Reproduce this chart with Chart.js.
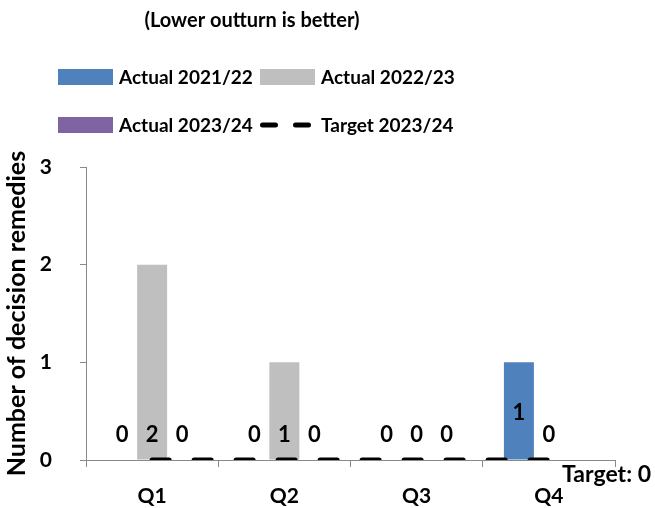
<!DOCTYPE html>
<html>
<head>
<meta charset="utf-8">
<script src="https://cdn.jsdelivr.net/npm/chart.js@4.4.1/dist/chart.umd.min.js"></script>
<style>
  html, body { margin: 0; padding: 0; background: #ffffff; }
  #wrap { width: 655px; height: 508px; position: relative; }
</style>
</head>
<body>
<div id="wrap"><canvas id="chart"></canvas></div>
<script>
// Quarterly decision remedies
const quarters = ['Q1', 'Q2', 'Q3', 'Q4'];
const actual2122 = [0, 0, 0, 1];
const actual2223 = [2, 1, 0, 0];
const actual2324 = [0, 0, 0, null];
const target2324 = [0, 0, 0, 0];
const targetValue = 0;
const yTickValues = [0, 1, 2, 3];
const subtitle = '(Lower outturn is better)';

const FONT = 'Lato';
const AXIS_GREY = '#898989';

// Heading and two-column legend above the plot
const headerLegend = {
  id: 'headerLegend',
  afterDraw(chart, args, opts) {
    const ctx = chart.ctx;
    ctx.save();
    ctx.fillStyle = '#000';
    ctx.textBaseline = 'middle';
    ctx.textAlign = 'center';
    ctx.font = `bold ${opts.titleSize}px ${FONT}`;
    ctx.fillText(opts.title, opts.titleX, opts.titleY);

    ctx.font = `bold ${opts.fontSize}px ${FONT}`;
    ctx.textAlign = 'left';
    opts.order.forEach((di, k) => {
      const ds = chart.data.datasets[di];
      const col = k % 2, row = Math.floor(k / 2);
      const x = opts.cols[col], y = opts.rows[row];
      if (ds.type === 'line') {
        ctx.strokeStyle = ds.borderColor;
        ctx.lineWidth = ds.borderWidth;
        ctx.lineCap = 'round';
        ctx.setLineDash([13, 20]);
        ctx.beginPath();
        ctx.moveTo(x + 2.5, y);
        ctx.lineTo(x + opts.boxWidth - 2.5, y);
        ctx.stroke();
        ctx.setLineDash([]);
      } else {
        ctx.fillStyle = ds.backgroundColor;
        ctx.fillRect(x, y - opts.boxHeight / 2, opts.boxWidth, opts.boxHeight);
      }
      ctx.fillStyle = '#000';
      ctx.fillText(ds.label, x + opts.boxWidth + 6, y + 1);
    });
    ctx.restore();
  }
};

// Value labels above the bar bases, plus the target note
const valueLabels = {
  id: 'valueLabels',
  afterDatasetsDraw(chart, args, opts) {
    const ctx = chart.ctx;
    const y = chart.scales.y;
    const base = y.getPixelForValue(0);
    ctx.save();
    ctx.font = `bold ${opts.fontSize}px ${FONT}`;
    ctx.fillStyle = '#000';
    ctx.textAlign = 'center';
    ctx.textBaseline = 'middle';
    chart.data.datasets.forEach((ds, di) => {
      if (ds.type === 'line') return;
      const meta = chart.getDatasetMeta(di);
      meta.data.forEach((bar, i) => {
        const v = ds.data[i];
        if (v === null || v === undefined) return;
        const lift = opts.lift[di + ':' + i] ?? opts.defaultLift;
        ctx.fillText(String(v), bar.x, base - lift);
      });
    });
    ctx.font = `bold ${opts.noteSize}px ${FONT}`;
    ctx.textAlign = 'right';
    ctx.fillText('Target: ' + targetValue, chart.width - 4, y.getPixelForValue(targetValue) + 15);
    ctx.restore();
  }
};

const chart = new Chart(document.getElementById('chart'), {
  data: {
    labels: quarters,
    datasets: [
      { type: 'bar', label: 'Actual 2021/22', data: actual2122, backgroundColor: '#4F81BD', order: 1 },
      { type: 'bar', label: 'Actual 2022/23', data: actual2223, backgroundColor: '#BFBFBF', order: 1 },
      { type: 'bar', label: 'Actual 2023/24', data: actual2324, backgroundColor: '#8064A2', order: 1 },
      { type: 'line', label: 'Target 2023/24', data: target2324, borderColor: '#000000',
        borderWidth: 5, borderDash: [17, 25], borderCapStyle: 'round',
        pointRadius: 0, fill: false, order: 0 }
    ]
  },
  options: {
    responsive: true,
    maintainAspectRatio: false,
    animation: false,
    datasets: { bar: { barPercentage: 1, categoryPercentage: 0.68 } },
    layout: { padding: { top: 167, right: 40, bottom: 0, left: 0 } },
    plugins: {
      legend: { display: false },
      tooltip: { enabled: false },
      title: { display: false },
      headerLegend: {
        title: subtitle,
        titleSize: 20,
        titleX: 252,
        titleY: 21,
        order: [0, 1, 2, 3],
        cols: [58, 260],
        rows: [77, 125],
        boxWidth: 55,
        boxHeight: 16,
        fontSize: 19
      },
      valueLabels: {
        fontSize: 22,
        noteSize: 23,
        defaultLift: 25,
        lift: { '0:3': 47 }
      }
    },
    scales: {
      x: {
        afterFit: (scale) => { scale.height = 48; },
        grid: { display: true, offset: true, drawOnChartArea: false, drawTicks: true, tickLength: 7, color: AXIS_GREY },
        border: { display: true, color: AXIS_GREY, width: 1 },
        ticks: { color: '#000', padding: 17, font: { family: FONT, size: 21, weight: 'bold' } }
      },
      y: {
        min: 0,
        max: 3,
        afterBuildTicks: (scale) => { scale.ticks = yTickValues.map(v => ({ value: v })); },
        afterFit: (scale) => { scale.width = 86; },
        grid: { display: true, drawOnChartArea: false, drawTicks: true, tickLength: 6, color: AXIS_GREY },
        border: { display: true, color: AXIS_GREY, width: 1 },
        ticks: { color: '#000', padding: 28, font: { family: FONT, size: 21, weight: 'bold' } },
        title: {
          display: true,
          text: 'Number of decision remedies',
          color: '#000',
          font: { family: FONT, size: 25, weight: 'bold' },
          padding: { top: 2, bottom: 0 }
        }
      }
    }
  },
  plugins: [headerLegend, valueLabels]
});
</script>
</body>
</html>
